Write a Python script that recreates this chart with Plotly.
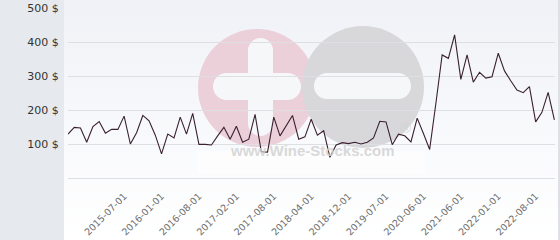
import plotly.graph_objects as go

# ---- data ----
dates = [
    "2014-10-01", "2014-11-01", "2014-12-01", "2015-01-01", "2015-02-01", "2015-03-01",
    "2015-04-01", "2015-05-01", "2015-06-01", "2015-07-01", "2015-08-01", "2015-09-01",
    "2015-10-01", "2015-11-01", "2015-12-01", "2016-01-01", "2016-02-01", "2016-03-01",
    "2016-04-01", "2016-05-01", "2016-07-01", "2016-08-01", "2016-09-01", "2016-10-01",
    "2016-11-01", "2016-12-01", "2017-01-01", "2017-02-01", "2017-03-01", "2017-04-01",
    "2017-05-01", "2017-06-01", "2017-07-01", "2017-08-01", "2017-09-01", "2017-10-01",
    "2017-12-01", "2018-01-01", "2018-02-01", "2018-04-01", "2018-05-01", "2018-06-01",
    "2018-08-01", "2018-09-01", "2018-10-01", "2018-12-01", "2019-01-01", "2019-02-01",
    "2019-03-01", "2019-04-01", "2019-05-01", "2019-07-01", "2019-08-01", "2019-10-01",
    "2019-12-01", "2020-02-01", "2020-04-01", "2020-06-01", "2020-08-01", "2020-10-01",
    "2020-12-01", "2021-02-01", "2021-04-01", "2021-06-01", "2021-07-01", "2021-08-01",
    "2021-09-01", "2021-10-01", "2021-12-01", "2022-01-01", "2022-02-01", "2022-03-01",
    "2022-04-01", "2022-05-01", "2022-07-01", "2022-08-01", "2022-09-01", "2022-10-01",
    "2022-11-01",
]
prices = [
    129, 149, 147, 105, 151, 166, 132, 143, 143, 182,
    100, 133, 184, 168, 126, 71, 129, 118, 179, 129,
    190, 99, 99, 97, 124, 149, 114, 152, 105, 114,
    187, 77, 76, 179, 124, 156, 184, 114, 121, 173,
    126, 139, 61, 97, 104, 101, 105, 100, 105, 118,
    167, 165, 98, 129, 124, 106, 176, 131, 84, 220,
    362, 352, 421, 290, 362, 282, 311, 294, 298, 367,
    315, 286, 259, 251, 269, 165, 193, 252, 171,
]
tick_dates = [
    "2015-07-01", "2016-01-01", "2016-08-01", "2017-02-01", "2017-08-01", "2018-04-01",
    "2018-12-01", "2019-07-01", "2020-06-01", "2021-06-01", "2022-01-01", "2022-08-01",
]
y_ticks = [0, 100, 200, 300, 400, 500]
y_tick_text = ["", "100 $", "200 $", "300 $", "400 $", "500 $"]

# ---- layout geometry (pixels) ----
W, H = 560, 240
L, R, T, B = 68, 555, 8, 178


def px(x):
    return (x - L) / (R - L)


def py(y):
    return (B - y) / (B - T)


shapes = []
# gradient background of the chart area
n = 30
top_c = (240, 242, 247)
bot_c = (255, 255, 255)
for i in range(n):
    y0 = i * H / n
    y1 = (i + 1) * H / n
    f = i / (n - 1)
    c = tuple(round(top_c[k] + (bot_c[k] - top_c[k]) * f) for k in range(3))
    shapes.append(dict(type="rect", xref="paper", yref="paper", layer="below",
                       x0=px(64), x1=px(558), y0=py(y0), y1=py(y1 + 0.5),
                       line=dict(width=0), fillcolor="rgb(%d,%d,%d)" % c))
# right border
shapes.append(dict(type="rect", xref="paper", yref="paper", layer="below",
                   x0=px(558), x1=px(560), y0=py(0), y1=py(240),
                   line=dict(width=0), fillcolor="#dde1e6"))


def circ(cx, cy, r, color):
    shapes.append(dict(type="circle", xref="paper", yref="paper", layer="below",
                       x0=px(cx - r), x1=px(cx + r), y0=py(cy + r), y1=py(cy - r),
                       line=dict(width=0), fillcolor=color))


def rect(x0, x1, y0, y1, color):
    shapes.append(dict(type="rect", xref="paper", yref="paper", layer="below",
                       x0=px(x0), x1=px(x1), y0=py(y1), y1=py(y0),
                       line=dict(width=0), fillcolor=color))


def pill_h(x0, x1, y0, y1, color):
    r = (y1 - y0) / 2
    rect(x0 + r, x1 - r, y0, y1, color)
    circ(x0 + r, (y0 + y1) / 2, r, color)
    circ(x1 - r, (y0 + y1) / 2, r, color)


def pill_v(x0, x1, y0, y1, color):
    r = (x1 - x0) / 2
    rect(x0, x1, y0 + r, y1 - r, color)
    circ((x0 + x1) / 2, y0 + r, r, color)
    circ((x0 + x1) / 2, y1 - r, r, color)


# watermark
circ(257, 88, 59, "#ebd0d9")
circ(363, 87, 61, "#d8d8da")
wm_white = "#f6f7f9"
pill_v(248, 273, 38, 136, wm_white)
pill_h(213, 301, 73, 100, wm_white)
pill_h(314, 411, 73, 99, wm_white)
rect(197, 425, 151, 174, "rgba(255,255,255,0.55)")

annotations = [
    dict(text="<b>www.Wine-Stocks.com</b>", xref="paper", yref="paper",
         x=px(312), y=py(161), showarrow=False,
         font=dict(family="Liberation Sans, Arial", size=15, color="rgba(210,210,210,0.85)")),
    dict(text="®", xref="paper", yref="paper", x=px(413), y=py(138), showarrow=False,
         font=dict(family="Liberation Sans, Arial", size=15, color="rgba(210,210,210,0.85)")),
]

fig = go.Figure()
fig.add_trace(go.Scatter(x=dates, y=prices, mode="lines",
                         line=dict(color="#3a2030", width=1.1),
                         hoverinfo="skip"))

fig.update_layout(
    width=W, height=H,
    margin=dict(l=L, r=W - R, t=T, b=H - B, pad=0, autoexpand=False),
    paper_bgcolor="#e6eaee",
    plot_bgcolor="rgba(0,0,0,0)",
    showlegend=False,
    shapes=shapes,
    annotations=annotations,
    xaxis=dict(type="category", range=[0, 78.1], tickmode="array",
               tickvals=tick_dates, ticktext=tick_dates, tickangle=-45,
               automargin=False,
               showgrid=False, zeroline=False, showline=False,
               ticks="outside", ticklen=8, tickcolor="rgba(0,0,0,0)",
               tickfont=dict(family="DejaVu Sans", size=9.5, color="#6e6e6e")),
    yaxis=dict(range=[0, 500], tickmode="array", tickvals=y_ticks, ticktext=y_tick_text,
               automargin=False,
               showgrid=True, gridcolor="#dedfe2", gridwidth=1,
               zeroline=True, zerolinecolor="#dedfe2", zerolinewidth=1, showline=False,
               ticks="outside", ticklen=6, tickcolor="rgba(0,0,0,0)",
               tickfont=dict(family="DejaVu Sans", size=11, color="#333333")),
)

fig.write_html("out.html")
